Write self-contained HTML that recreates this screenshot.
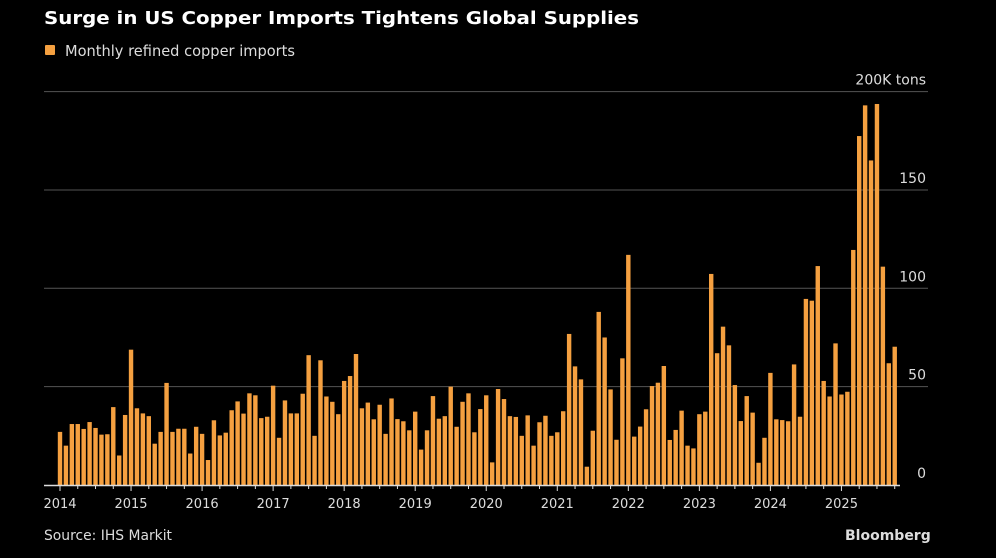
<!DOCTYPE html>
<html><head><meta charset="utf-8"><style>
html,body{margin:0;padding:0;background:#000;}
svg{display:block;}
text{font-family:"DejaVu Sans","Liberation Sans",sans-serif;}
</style></head><body>
<svg id="chart" width="996" height="558" viewBox="0 0 996 558">
<rect width="996" height="558" fill="#000"/>
<text x="44" y="24" fill="#fff" font-size="18" font-weight="bold" textLength="595" lengthAdjust="spacingAndGlyphs">Surge in US Copper Imports Tightens Global Supplies</text>
<rect x="45" y="45" width="10" height="10" rx="1" fill="#f5a040"/>
<text x="65" y="56" fill="#ddd" font-size="15" textLength="230" lengthAdjust="spacingAndGlyphs">Monthly refined copper imports</text>
<g id="grid"></g>
<g id="bars"></g>
<g id="xaxis"></g>
<text x="44" y="540" fill="#ddd" font-size="14" textLength="128" lengthAdjust="spacingAndGlyphs">Source: IHS Markit</text>
<text x="845" y="540" fill="#ddd" font-size="14" font-weight="bold">Bloomberg</text>
</svg>
<script>
const values = [27,20,31,31,28.5,32,29,25.6,25.8,39.6,15,35.6,
68.8,39,36.4,35,21,27,51.9,27,28.6,28.6,16,29.6,
26,12.7,32.9,25.2,26.6,38,42.5,36.3,46.6,45.6,34,34.7,
50.5,24,43,36.4,36.4,46.4,66,25,63.4,45,42.3,36,
52.9,55.4,66.6,39,41.9,33.4,40.8,26,44,33.5,32.4,27.8,
37.3,18,27.8,45.2,33.7,35,50,29.6,42.3,46.6,26.8,38.6,
45.6,11.5,48.8,43.7,35,34.6,25,35.4,20,31.9,35.2,25,
26.8,37.5,76.8,60.3,53.7,9.3,27.6,88,75,48.6,23,64.4,
117,24.6,29.7,38.5,50.3,52,60.5,22.9,28,37.8,20,18.6,
36,37.3,107.3,67,80.5,71,50.8,32.5,45.2,36.8,11.3,24,
57,33.4,33,32.4,61.3,34.7,94.6,93.7,111.3,52.9,45,72,
46,47.4,119.5,177.4,193,165,193.7,111,61.9,70.3];
const yTicks = [0,50,100,150,200];
const yTickLabels = ["0","50","100","150","200K tons"];
const years = [2014,2015,2016,2017,2018,2019,2020,2021,2022,2023,2024,2025];

const NS="http://www.w3.org/2000/svg";
const x0=60, monthW=5.92, yBase=485, yScale=1.967, barW=4.4;
const xScale = i => x0 + i*monthW;
const yPos = v => yBase - v*yScale;
function mk(tag, attrs, parent){const e=document.createElementNS(NS,tag);for(const k in attrs)e.setAttribute(k,attrs[k]);parent.appendChild(e);return e;}
const grid=document.getElementById('grid'), bars=document.getElementById('bars'), xa=document.getElementById('xaxis');
yTicks.forEach((t,k)=>{
  if(t>0){const l=mk('line',{x1:44,x2:928,y1:yPos(t),y2:yPos(t),stroke:'#555','stroke-width':1},grid);
  
  }
  const tx=mk('text',{x:926,y:yPos(t)-7,fill:'#ddd','font-size':14,'text-anchor':'end'},grid);
  tx.textContent=yTickLabels[k];
  
  
});
values.forEach((v,i)=>{
  const r=mk('rect',{x:xScale(i)-barW/2,y:yPos(v),width:barW,height:v*yScale,fill:'#f5a040'},bars);
  
  
});
const ax=mk('line',{x1:44,x2:900,y1:yBase+0.5,y2:yBase+0.5,stroke:'#ddd','stroke-width':1.5},xa);


for(let m=0;m<values.length;m+=3){
  const big=m%12===0;
  const tk=mk('line',{x1:xScale(m),x2:xScale(m),y1:yBase,y2:yBase+(big?6:4),stroke:'#ddd','stroke-width':1},xa);
  
  
}
years.forEach((yr,k)=>{
  const t=mk('text',{x:xScale(k*12),y:508,fill:'#ddd','font-size':13,'text-anchor':'middle'},xa);
  t.textContent=yr;
  
  
});
</script>
</body></html>
